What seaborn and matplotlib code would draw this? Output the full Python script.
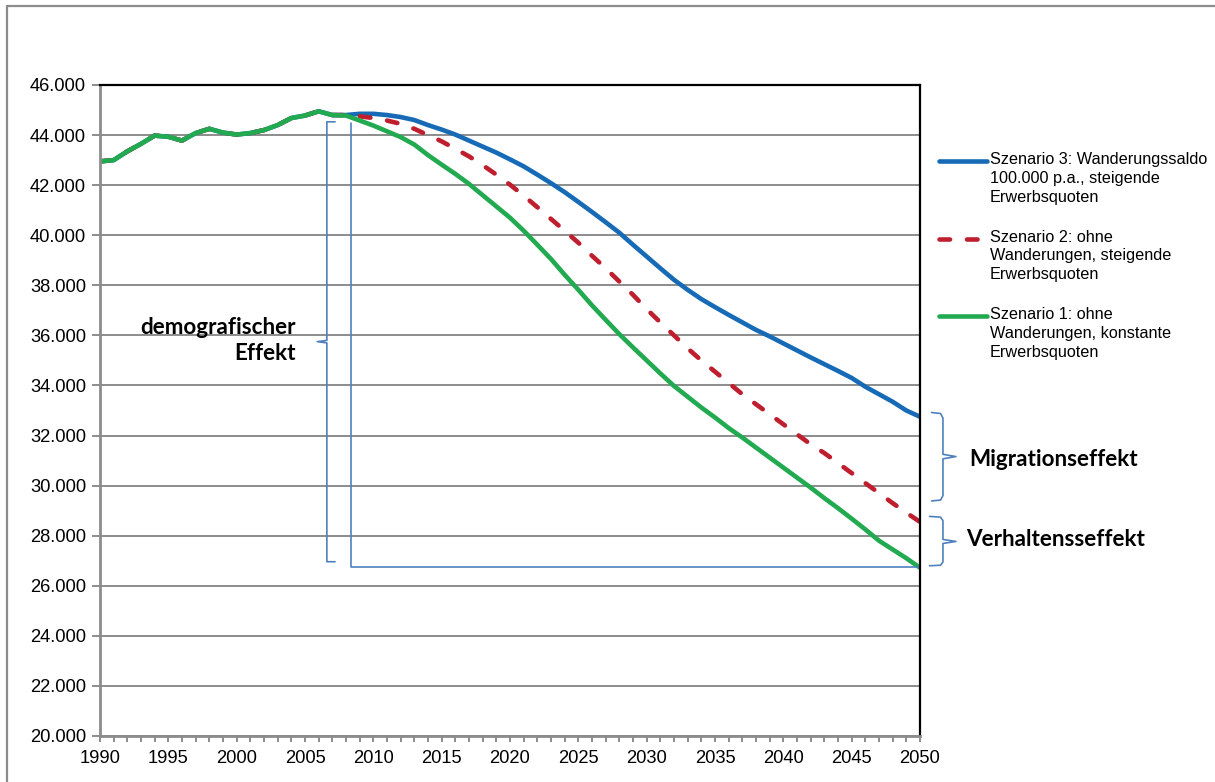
import numpy as np
import pandas as pd
import matplotlib
matplotlib.use("Agg")
import matplotlib.pyplot as plt
from matplotlib.lines import Line2D
from matplotlib.ticker import MultipleLocator, FuncFormatter
import seaborn as sns

# Erwerbspersonen in Tausend, 1990-2050
years = list(range(1990, 2051))

history = [42.95, 43.00, 43.35, 43.65, 43.98, 43.93, 43.78, 44.08, 44.25, 44.10,
           44.02, 44.08, 44.20, 44.40, 44.68, 44.78, 44.95, 44.80]  # 1990-2007

szenario3 = [44.80, 44.85, 44.85, 44.80, 44.72, 44.60, 44.40, 44.22, 44.02, 43.78,
             43.54, 43.30, 43.03, 42.75, 42.42, 42.08, 41.72, 41.33, 40.93, 40.52,
             40.10, 39.62, 39.15, 38.68, 38.22, 37.82, 37.45, 37.13, 36.82, 36.52,
             36.22, 35.96, 35.68, 35.40, 35.12, 34.85, 34.58, 34.30, 33.95, 33.65,
             33.35, 33.00, 32.75]  # 2008-2050

szenario2 = [44.80, 44.75, 44.68, 44.58, 44.45, 44.25, 44.00, 43.75, 43.45, 43.15,
             42.80, 42.42, 42.02, 41.58, 41.12, 40.65, 40.18, 39.70, 39.18, 38.68,
             38.15, 37.62, 37.05, 36.52, 36.00, 35.48, 35.00, 34.55, 34.10, 33.65,
             33.25, 32.85, 32.45, 32.05, 31.65, 31.30, 30.90, 30.50, 30.10, 29.70,
             29.30, 28.92, 28.55]

szenario1 = [44.78, 44.58, 44.38, 44.15, 43.92, 43.62, 43.20, 42.82, 42.45, 42.05,
             41.60, 41.15, 40.70, 40.18, 39.62, 39.05, 38.42, 37.82, 37.20, 36.62,
             36.05, 35.52, 35.00, 34.48, 33.98, 33.55, 33.12, 32.72, 32.30, 31.92,
             31.52, 31.12, 30.72, 30.32, 29.92, 29.50, 29.10, 28.68, 28.25, 27.80,
             27.45, 27.10, 26.72]

labels = ["Szenario 3: Wanderungssaldo\n100.000 p.a., steigende\nErwerbsquoten",
          "Szenario 2: ohne\nWanderungen, steigende\nErwerbsquoten",
          "Szenario 1: ohne\nWanderungen, konstante\nErwerbsquoten"]
colors = ["#176BB6", "#BE1E2D", "#22AA50"]

df = pd.DataFrame({
    "Jahr": years,
    "s3": [v * 1000 for v in history + szenario3],
    "s2": [v * 1000 for v in history + szenario2],
    "s1": [v * 1000 for v in history + szenario1],
})

sns.set_theme(style="white")
plt.rcParams["font.family"] = ["Liberation Sans", "DejaVu Sans"]

fig = plt.figure(figsize=(12.15, 7.82), dpi=100)
ax = fig.add_axes([100 / 1215, 1 - 736 / 782, 820 / 1215, 651 / 782])

# outer chart border (top and left only visible)
fig.add_artist(Line2D([7 / 1215, 7 / 1215], [0, 1 - 6 / 782], transform=fig.transFigure,
                      color="#8c8c8c", lw=1.6))
fig.add_artist(Line2D([7 / 1215, 1], [1 - 6 / 782, 1 - 6 / 782], transform=fig.transFigure,
                      color="#8c8c8c", lw=1.6))

dash = (0, (2.3, 3.7))
lw = 3.3
# lines: blue, red dashed, green on top
sns.lineplot(data=df, x="Jahr", y="s3", color=colors[0], lw=lw, ax=ax, legend=False,
             solid_capstyle="round")
sns.lineplot(data=df, x="Jahr", y="s2", color=colors[1], lw=lw, ax=ax, legend=False,
             linestyle=dash, dash_capstyle="round")
sns.lineplot(data=df, x="Jahr", y="s1", color=colors[2], lw=lw, ax=ax, legend=False,
             solid_capstyle="round")

ax.set_xlim(1990, 2050)
ax.set_ylim(20000, 46000)
ax.set_xlabel("")
ax.set_ylabel("")
ax.xaxis.set_major_locator(MultipleLocator(5))
ax.xaxis.set_minor_locator(MultipleLocator(1))
ax.yaxis.set_major_locator(MultipleLocator(2000))
ax.yaxis.set_major_formatter(FuncFormatter(lambda v, p: f"{v:,.0f}".replace(",", ".")))
ax.grid(axis="y", color="#8c8c8c", lw=1.4)
ax.set_axisbelow(True)
ax.tick_params(axis="both", which="both", direction="out", color="#8c8c8c",
               labelsize=13.2, labelcolor="black")
ax.tick_params(axis="y", length=6, width=1.4, left=True, pad=4)
ax.tick_params(axis="x", which="both", length=4, width=1.4, bottom=True, pad=6)
for s in ["left", "bottom"]:
    ax.spines[s].set_color("#8c8c8c")
    ax.spines[s].set_linewidth(2)
for s in ["top", "right"]:
    ax.spines[s].set_color("black")
    ax.spines[s].set_linewidth(1.6)

brace = "#4F81BD"
# demografischer Effekt brace
ax.plot([2007.2, 2006.6, 2006.6, 2005.9, 2006.6, 2006.6, 2007.2],
        [44530, 44530, 35800, 35750, 35700, 26960, 26960],
        color=brace, lw=1.2, clip_on=False)
ax.plot([2008.35, 2008.35, 2050], [44500, 26750, 26750], color=brace, lw=1.2,
        clip_on=False)
# Migrationseffekt brace
ax.plot([2050.85, 2051.5, 2051.68, 2051.68, 2052.63, 2051.68, 2051.68, 2051.5, 2050.85],
        [32920, 32880, 32700, 31250, 31160, 31070, 29600, 29420, 29390],
        color=brace, lw=1.2, clip_on=False)
# Verhaltensseffekt brace
ax.plot([2050.7, 2051.5, 2051.68, 2051.68, 2052.63, 2051.68, 2051.68, 2051.5, 2050.7],
        [28770, 28740, 28600, 27850, 27770, 27690, 26950, 26820, 26800],
        color=brace, lw=1.2, clip_on=False)

bold = dict(family=["Lato", "DejaVu Sans"], fontweight="bold", fontsize=16.2, color="black")
ax.text(2053.6, 31050, "Migrationseffekt", ha="left", va="center", clip_on=False, **bold)
ax.text(2053.4, 27830, "Verhaltensseffekt", ha="left", va="center", clip_on=False, **bold)
ax.text(2004.3, 35800, "demografischer\nEffekt", ha="right", va="center",
        linespacing=1.3, **bold)

# legend drawn by hand
for i, (lab, col) in enumerate(zip(labels, colors)):
    yc = 1 - (161 + 77.5 * i) / 782
    ls = dash if i == 1 else "-"
    fig.add_artist(Line2D([939 / 1215, 987 / 1215], [yc, yc], transform=fig.transFigure,
                          color=col, lw=lw, linestyle=ls, dash_capstyle="round",
                          solid_capstyle="round"))
    fig.text(990 / 1215, yc + 9 / 782, lab, ha="left", va="top", fontsize=11.7,
             linespacing=1.32, color="black")

fig.savefig("out.png", dpi=100)
